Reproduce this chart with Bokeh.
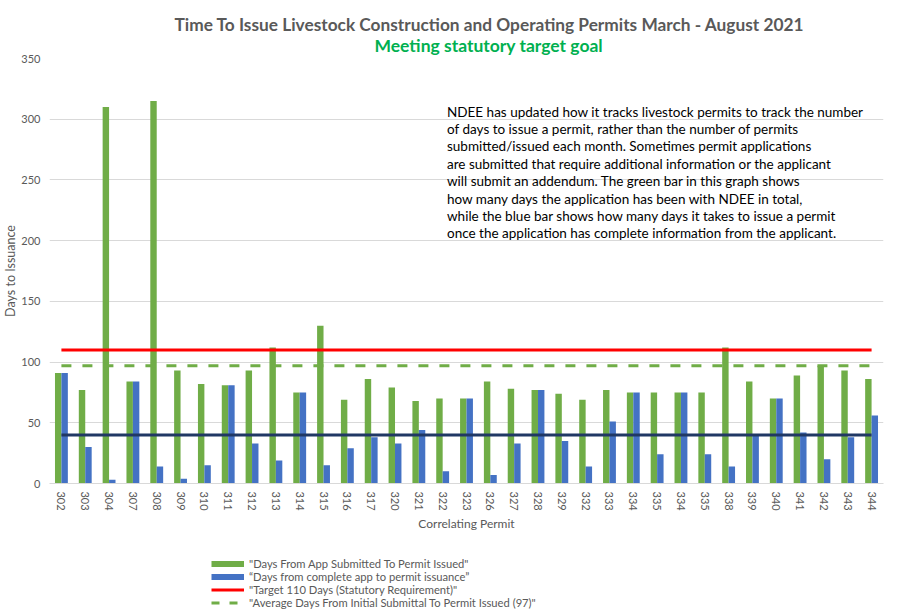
import math
from bokeh.plotting import figure
from bokeh.layouts import column
from bokeh.models import (ColumnDataSource, Range1d, FixedTicker, Label, Legend, LegendItem, Title)
from bokeh.embed import file_html
from bokeh.resources import INLINE

# ---------------- data ----------------
permits = ["302", "303", "304", "307", "308", "309", "310", "311", "312", "313",
           "314", "315", "316", "317", "320", "321", "322", "323", "326", "327",
           "328", "329", "332", "333", "334", "335", "334", "335", "338", "339",
           "340", "341", "342", "343", "344"]
days_app_submitted = [91, 77, 310, 84, 315, 93, 82, 81, 93, 112,
                      75, 130, 69, 86, 79, 68, 70, 70, 84, 78,
                      77, 74, 69, 77, 75, 75, 75, 75, 112, 84,
                      70, 89, 97, 93, 86]
days_complete_app = [91, 30, 3, 84, 14, 4, 15, 81, 33, 19,
                     75, 15, 29, 38, 33, 44, 10, 70, 7, 33,
                     77, 35, 14, 51, 75, 24, 75, 24, 14, 40,
                     70, 42, 20, 38, 56]
target_days = 110
average_days = 97
complete_avg_days = 40
y_ticks = [0, 50, 100, 150, 200, 250, 300, 350]

note_lines = [
    "NDEE has updated how it tracks livestock permits to track the number",
    " of days to issue a permit, rather than the number of permits",
    "submitted/issued each month. Sometimes permit applications",
    "are submitted that require additional information or the applicant",
    "will submit an addendum. The green bar in this graph shows",
    "how many days the application has been with NDEE in total,",
    "while the blue bar shows how many days it takes to issue a permit",
    "once the application has complete information from the applicant.",
]

GREEN = "#70AD47"
BLUE = "#4472C4"
RED = "#FF0000"
NAVY = "#203864"
GRAY = "#595959"
GRID = "#D9D9D9"
FONT = "Lato"

n = len(permits)
idx = list(range(n))
bw = 0.27
src = ColumnDataSource(dict(
    xg=[i - bw / 2 for i in idx],
    xb=[i + bw / 2 for i in idx],
    g=days_app_submitted,
    b=days_complete_app,
))

MAIN_H = 550
p = figure(width=915, height=MAIN_H, output_backend="svg", toolbar_location=None,
           x_range=Range1d(-0.5, n - 0.5), y_range=Range1d(0, 350),
           min_border_left=49, min_border_right=32, min_border_top=58,
           min_border_bottom=MAIN_H - 483, title=None)
p.outline_line_color = None
p.background_fill_color = "white"
p.border_fill_color = "white"

p.vbar(x="xg", top="g", width=bw, source=src, fill_color=GREEN, line_color=None)
p.vbar(x="xb", top="b", width=bw, source=src, fill_color=BLUE, line_color=None)

xs = [idx[0], idx[-1]]
p.line(xs, [target_days] * 2, line_color=RED, line_width=3)
p.line(xs, [complete_avg_days] * 2, line_color=NAVY, line_width=3)
p.line(xs, [average_days] * 2, line_color=GREEN, line_width=3, line_dash="10 11")

# axes
p.xgrid.visible = False
p.ygrid.grid_line_color = GRID
p.ygrid.ticker = FixedTicker(ticks=y_ticks)

p.yaxis.ticker = FixedTicker(ticks=y_ticks)
p.yaxis.axis_line_color = None
p.yaxis.major_tick_line_color = None
p.yaxis.minor_tick_line_color = None
p.yaxis.major_tick_out = 0
p.yaxis.major_tick_in = 0
p.yaxis.major_label_standoff = 9
p.yaxis.major_label_text_font = FONT
p.yaxis.major_label_text_font_size = "11px"
p.yaxis.major_label_text_color = GRAY
p.yaxis.axis_label = "Days to Issuance"
p.yaxis.axis_label_standoff = 0
p.yaxis.axis_label_text_font = FONT
p.yaxis.axis_label_text_font_size = "12.5px"
p.yaxis.axis_label_text_font_style = "normal"
p.yaxis.axis_label_text_color = GRAY

p.xaxis.ticker = FixedTicker(ticks=idx)
p.xaxis.major_label_overrides = {i: lab for i, lab in zip(idx, permits)}
p.xaxis.major_label_orientation = -math.pi / 2
p.xaxis.axis_line_color = GRID
p.xaxis.major_tick_line_color = None
p.xaxis.minor_tick_line_color = None
p.xaxis.major_tick_out = 0
p.xaxis.major_tick_in = 0
p.xaxis.major_label_standoff = 8
p.xaxis.major_label_text_font = FONT
p.xaxis.major_label_text_font_size = "11px"
p.xaxis.major_label_text_color = GRAY
p.xaxis.axis_label = "Correlating Permit"
p.xaxis.axis_label_standoff = 2
p.xaxis.axis_label_text_font = FONT
p.xaxis.axis_label_text_font_size = "12px"
p.xaxis.axis_label_text_font_style = "normal"
p.xaxis.axis_label_text_color = GRAY

# titles (first added sits next to the frame)
p.add_layout(Title(text="Meeting statutory target goal", align="left", offset=325,
                   standoff=5, text_font=FONT, text_font_size="17.5px",
                   text_font_style="bold", text_color="#00B050"), "above")
p.add_layout(Title(text="Time To Issue Livestock Construction and Operating Permits March - August 2021",
                   align="left", offset=125, standoff=-8, text_font=FONT,
                   text_font_size="17.3px", text_font_style="bold", text_color=GRAY), "above")

y0 = 425 - (111 - 58)
for k, line in enumerate(note_lines):
    p.add_layout(Label(x=397.5, y=y0 - k * 17.4, x_units="screen", y_units="screen",
                       text=line, text_align="left", text_baseline="middle",
                       text_font=FONT, text_font_size="13.5px", text_color="black"))

# ---------------- legend strip below ----------------
LEG_H = 611 - MAIN_H
q = figure(width=915, height=LEG_H, output_backend="svg", toolbar_location=None,
           x_range=Range1d(-100, -99), y_range=Range1d(-100, -99),
           x_axis_location=None, y_axis_location=None,
           min_border_left=0, min_border_right=0, min_border_top=0, min_border_bottom=0,
           title=None)
q.outline_line_color = None
q.grid.visible = False
q.border_fill_color = "white"

# legend proxies: same series, outside this strip's visible ranges
lg = q.line(xs, [average_days] * 2, line_color=GREEN, line_width=6)
lb = q.line(xs, [complete_avg_days] * 2, line_color=BLUE, line_width=6)
lr = q.line(xs, [target_days] * 2, line_color=RED, line_width=3)
ld = q.line(xs, [average_days] * 2, line_color=GREEN, line_width=3, line_dash="8 10")

legend = Legend(items=[
    LegendItem(label='"Days From App Submitted To Permit Issued"', renderers=[lg]),
    LegendItem(label='\u201cDays from complete app to permit issuance\u201d', renderers=[lb]),
    LegendItem(label='"Target 110 Days (Statutory Requirement)"', renderers=[lr]),
    LegendItem(label='"Average Days From Initial Submittal To Permit Issued (97)"', renderers=[ld]),
], location=(162, 2), orientation="vertical")
legend.padding = 0
legend.margin = 0
legend.spacing = 0
legend.border_line_alpha = 0
legend.background_fill_alpha = 0
legend.glyph_width = 33
legend.glyph_height = 13
legend.label_height = 13
legend.label_standoff = 5
legend.label_text_font = FONT
legend.label_text_font_size = "11.2px"
legend.label_text_color = GRAY
q.add_layout(legend, "center")

open("out.html", "w").write(file_html(column(p, q, spacing=0), INLINE))
